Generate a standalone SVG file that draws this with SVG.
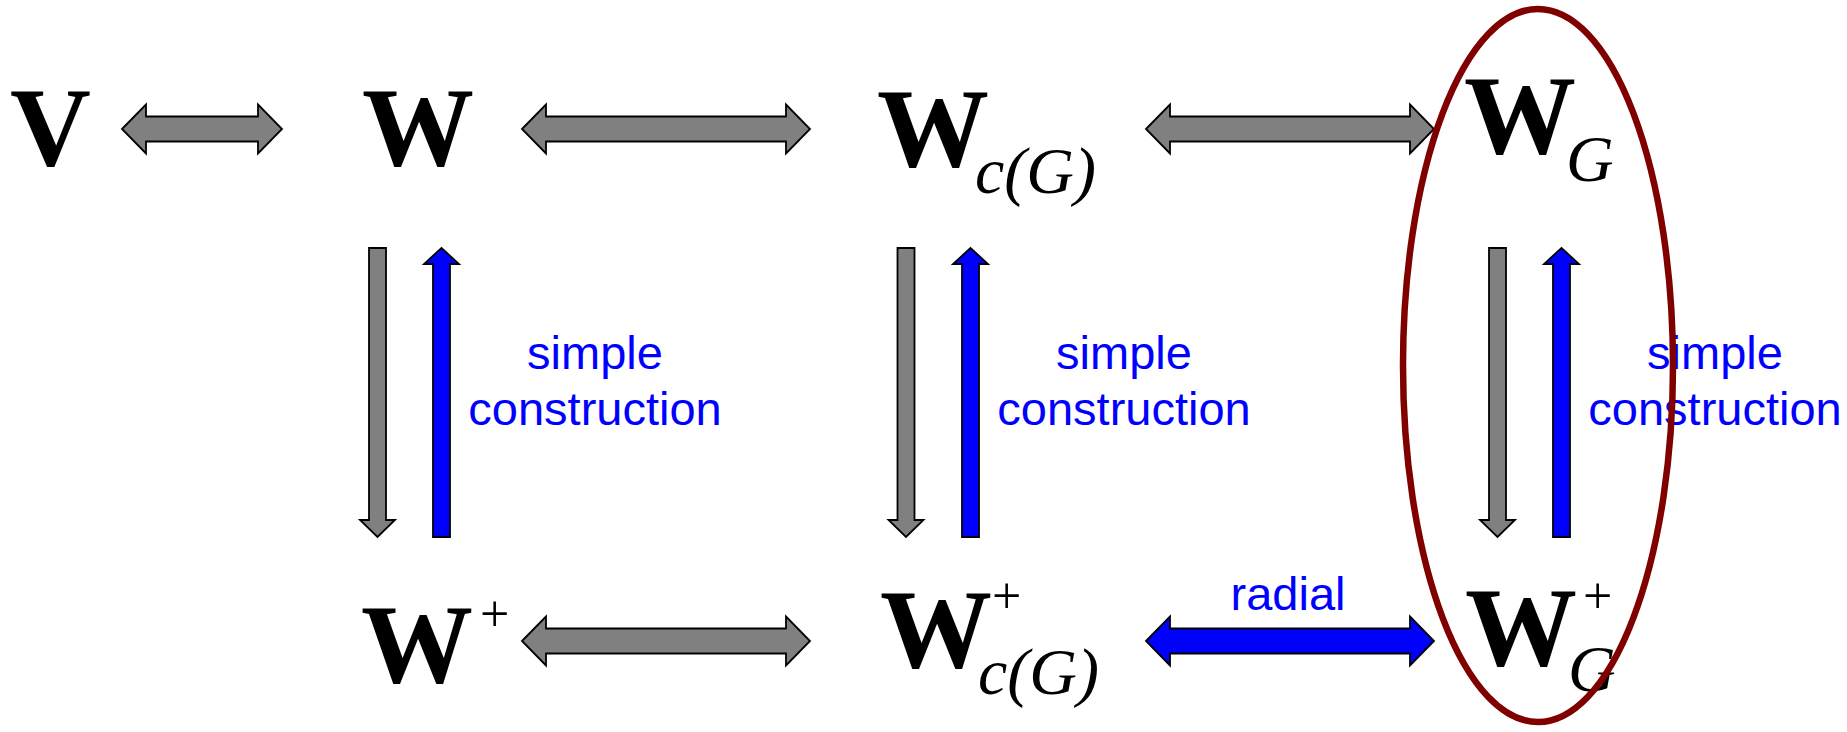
<svg xmlns="http://www.w3.org/2000/svg" width="1847" height="732" viewBox="0 0 1847 732">
<style>
.m{font-family:"Liberation Serif","Times New Roman",serif;font-weight:bold;font-size:112px;fill:#000}
.s{font-family:"Liberation Serif","Times New Roman",serif;font-style:italic;font-size:66px;fill:#000}
.p{font-family:"Liberation Serif","Times New Roman",serif;font-size:52px;fill:#000}
.l{font-family:"Liberation Sans",Arial,sans-serif;font-size:47px;fill:#0000FF;text-anchor:middle}
.g{fill:#808080;stroke:#000;stroke-width:1.8;stroke-linejoin:miter}
.b{fill:#0000FF;stroke:#000;stroke-width:1.8;stroke-linejoin:miter}
</style>
<rect width="1847" height="732" fill="#fff"/>
<g id="node-V"><text class="m" x="10" y="165">V</text></g>
<g id="node-W"><text class="m" x="362" y="165">W</text></g>
<g id="node-WcG"><text class="m" x="877" y="166">W</text><text class="s" x="975" y="193">c(G)</text></g>
<g id="node-WG"><text class="m" x="1464" y="153">W</text><text class="s" x="1566" y="181">G</text></g>
<g id="node-Wplus"><text class="m" x="361" y="682">W</text><text class="p" x="480" y="631">+</text></g>
<g id="node-WcGplus"><text class="m" x="880" y="667">W</text><text class="p" x="992" y="613">+</text><text class="s" x="978" y="694">c(G)</text></g>
<g id="node-WGplus"><text class="m" x="1465" y="665">W</text><text class="p" x="1583" y="613">+</text><text class="s" x="1568" y="691">G</text></g>
<g id="connectors">
<polygon class="g" points="122,129 146,104.5 146,116.5 258,116.5 258,104.5 282,129 258,153.5 258,141.5 146,141.5 146,153.5"/>
<polygon class="g" points="522,129 546,104.5 546,116.5 786,116.5 786,104.5 810,129 786,153.5 786,141.5 546,141.5 546,153.5"/>
<polygon class="g" points="1146,129 1170,104.5 1170,116.5 1410,116.5 1410,104.5 1434,129 1410,153.5 1410,141.5 1170,141.5 1170,153.5"/>
<polygon class="g" points="522,641 546,616.5 546,628.5 786,628.5 786,616.5 810,641 786,665.5 786,653.5 546,653.5 546,665.5"/>
<polygon class="b" points="1146,641 1170,616.5 1170,628.5 1410,628.5 1410,616.5 1434,641 1410,665.5 1410,653.5 1170,653.5 1170,665.5"/>
<polygon class="g" points="369,248 386,248 386,520 395,520 377.5,537 360,520 369,520"/>
<polygon class="b" points="433,537 450,537 450,264 459,264 441.5,248 424,264 433,264"/>
<polygon class="g" points="897.5,248 914.5,248 914.5,520 923.5,520 906,537 888.5,520 897.5,520"/>
<polygon class="b" points="962,537 979,537 979,264 988,264 970.5,248 953,264 962,264"/>
<polygon class="g" points="1489,248 1506,248 1506,520 1515,520 1497.5,537 1480,520 1489,520"/>
<polygon class="b" points="1553,537 1570,537 1570,264 1579,264 1561.5,248 1544,264 1553,264"/>
<text class="l" x="595" y="369">simple</text>
<text class="l" x="595" y="425">construction</text>
<text class="l" x="1124" y="369">simple</text>
<text class="l" x="1124" y="425">construction</text>
<text class="l" x="1715" y="369">simple</text>
<text class="l" x="1715" y="425">construction</text>
<text class="l" x="1288" y="610">radial</text>
</g>
<g id="highlight"><ellipse cx="1538" cy="365.5" rx="135" ry="356.5" fill="none" stroke="#800000" stroke-width="6.5"/></g>
</svg>
